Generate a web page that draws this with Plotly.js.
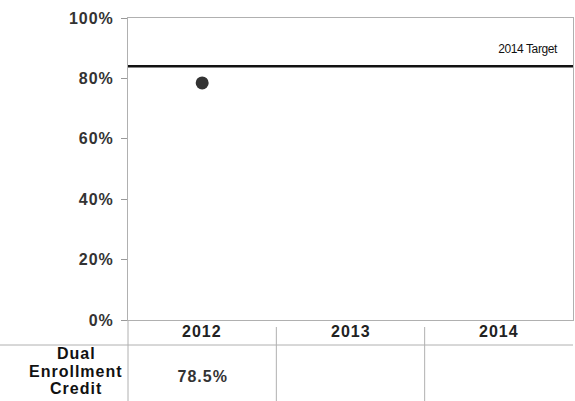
<!DOCTYPE html>
<html><head><meta charset="utf-8">
<script src="https://cdn.plot.ly/plotly-3.0.1.min.js"></script>
<style>html,body{margin:0;padding:0;background:#fff}#chart{width:575px;height:401px}
#chart svg text{letter-spacing:1px}</style>
</head><body><div id="chart"></div>
<script>
const years = ['2012', '2013', '2014'];
const seriesLines = ['Dual', 'Enrollment', 'Credit'];
const values = [78.5, null, null];
const valueLabels = ['78.5%', '', ''];
const targetValue = 84;
const targetLabel = '2014 Target';
const yTicks = [0, 20, 40, 60, 80, 100];
const yTickLabels = ['0%', '20%', '40%', '60%', '80%', '100%'];

const W = 575, H = 401, L = 128, R = 2, T = 18, B = 81;
const pw = W - L - R, ph = H - T - B;
const py = d => -d / ph;        // pixels below plot bottom -> paper y
const px = d => d / pw;         // pixels from plot left -> paper x
const xIdx = years.map((_, i) => i);
const font = 'Liberation Sans, Arial, sans-serif';
const lineCol = '#b0b0b0';

const shapes = [
  {type: 'line', xref: 'paper', yref: 'y', x0: 0, x1: 1, y0: targetValue, y1: targetValue, line: {color: '#111', width: 2.5}},
  {type: 'line', xref: 'paper', yref: 'paper', x0: px(-L), x1: 1, y0: py(25), y1: py(25), line: {color: lineCol, width: 1}},
  {type: 'line', xref: 'paper', yref: 'paper', x0: 0, x1: 0, y0: 0, y1: py(B), line: {color: lineCol, width: 1}}
];
for (let i = 1; i < years.length; i++) {
  shapes.push({type: 'line', xref: 'paper', yref: 'paper', x0: i / years.length, x1: i / years.length, y0: py(7), y1: py(B), line: {color: lineCol, width: 1}});
}
const annotations = [
  {xref: 'paper', yref: 'y', x: 1, xshift: -11, y: targetValue, yshift: 17, xanchor: 'right', yanchor: 'middle', text: targetLabel, showarrow: false, font: {family: font, size: 12, color: '#111'}}
];
const rowY = [33, 51, 68];
seriesLines.forEach((s, k) => {
  annotations.push({xref: 'paper', yref: 'paper', x: px(76 - L), y: py(rowY[k]), xanchor: 'center', yanchor: 'middle', text: '<b>' + s + '</b>', showarrow: false, font: {family: font, size: 16, color: '#111'}});
});
years.forEach((yr, i) => {
  annotations.push({xref: 'x', yref: 'paper', x: i, y: py(11), xanchor: 'center', yanchor: 'middle', text: '<b>' + yr + '</b>', showarrow: false, font: {family: font, size: 16, color: '#222'}});
  if (valueLabels[i]) annotations.push({xref: 'x', yref: 'paper', x: i, y: py(56), xanchor: 'center', yanchor: 'middle', text: '<b>' + valueLabels[i] + '</b>', showarrow: false, font: {family: font, size: 16, color: '#333'}});
});

Plotly.newPlot('chart', [{
  type: 'scatter', mode: 'markers', x: xIdx, y: values,
  marker: {size: 13, color: '#333'}, hoverinfo: 'skip'
}], {
  width: W, height: H,
  margin: {l: L, r: R, t: T, b: B},
  paper_bgcolor: '#fff', plot_bgcolor: '#fff',
  showlegend: false,
  xaxis: {range: [-0.5, years.length - 0.5], showticklabels: false, ticks: '', showgrid: false, zeroline: false, showline: true, mirror: true, linecolor: lineCol, linewidth: 1},
  yaxis: {range: [0, 100], tickvals: yTicks, ticktext: yTickLabels.map(t => '<b>' + t + '</b>'), ticks: 'outside', ticklen: 6, tickcolor: '#999', showgrid: false, zeroline: false, showline: true, mirror: true, linecolor: lineCol, linewidth: 1, tickfont: {family: font, size: 16, color: '#333'}, ticklabelstandoff: 4},
  shapes: shapes, annotations: annotations
}, {staticPlot: true}).then(gd => {
  gd.querySelectorAll('.annotation-text').forEach(t => { if (t.textContent === targetLabel) t.style.letterSpacing = '-0.4px'; });
});
</script></body></html>
